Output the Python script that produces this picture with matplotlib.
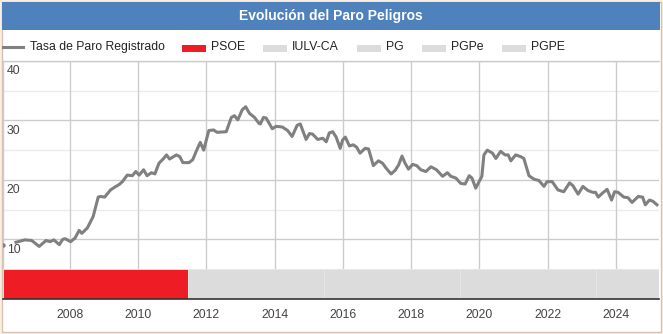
"""Evolución del Paro Peligros"""
import matplotlib
matplotlib.use('Agg')
import matplotlib.pyplot as plt
from matplotlib.patches import Rectangle
from matplotlib.lines import Line2D
import matplotlib.transforms as mtransforms

plt.rcParams['font.family'] = ['Liberation Sans', 'DejaVu Sans']

# Datos (fecha en año decimal, tasa en %)
fechas = [
    2006.05, 2006.42, 2006.68, 2006.88, 2007.10, 2007.30, 2007.42, 2007.53, 2007.69, 2007.79,
    2007.86, 2008.02, 2008.15, 2008.27, 2008.35, 2008.51, 2008.68, 2008.83, 2008.90, 2009.02,
    2009.19, 2009.32, 2009.44, 2009.54, 2009.68, 2009.83, 2009.93, 2010.03, 2010.16, 2010.26,
    2010.39, 2010.49, 2010.61, 2010.73, 2010.83, 2010.92, 2011.12, 2011.22, 2011.31, 2011.49,
    2011.60, 2011.70, 2011.82, 2011.92, 2012.07, 2012.21, 2012.31, 2012.58, 2012.73, 2012.82,
    2012.92, 2013.05, 2013.15, 2013.26, 2013.41, 2013.54, 2013.58, 2013.67, 2013.75, 2013.93,
    2014.04, 2014.22, 2014.38, 2014.51, 2014.66, 2014.75, 2014.92, 2015.02, 2015.11, 2015.26,
    2015.41, 2015.51, 2015.60, 2015.70, 2015.80, 2015.92, 2015.99, 2016.07, 2016.19, 2016.30,
    2016.40, 2016.50, 2016.65, 2016.75, 2016.89, 2017.04, 2017.16, 2017.26, 2017.41, 2017.53,
    2017.63, 2017.73, 2017.82, 2017.92, 2018.04, 2018.16, 2018.28, 2018.43, 2018.58, 2018.74,
    2018.92, 2019.06, 2019.16, 2019.31, 2019.45, 2019.58, 2019.70, 2019.78, 2019.89, 2020.07,
    2020.13, 2020.23, 2020.38, 2020.48, 2020.62, 2020.75, 2020.84, 2020.92, 2021.06, 2021.21,
    2021.30, 2021.45, 2021.60, 2021.74, 2021.89, 2021.98, 2022.13, 2022.30, 2022.47, 2022.64,
    2022.74, 2022.89, 2023.03, 2023.18, 2023.32, 2023.40, 2023.48, 2023.61, 2023.74, 2023.87,
    2023.96, 2024.06, 2024.23, 2024.35, 2024.47, 2024.65, 2024.78, 2024.86, 2024.98, 2025.08,
    2025.20,
]
tasa_paro = [
    9.1, 9.5, 9.9, 9.8, 8.8, 9.8, 9.6, 9.9, 9.1, 10.0,
    10.1, 9.6, 10.2, 11.5, 11.0, 11.9, 13.8, 17.1, 17.2, 17.1,
    18.3, 18.8, 19.2, 19.7, 20.8, 20.7, 21.4, 20.8, 21.7, 20.7,
    21.2, 21.0, 22.8, 23.5, 24.2, 23.5, 24.2, 23.9, 22.9, 22.9,
    23.4, 24.8, 26.3, 25.0, 28.3, 28.4, 28.0, 28.1, 30.5, 30.8,
    30.1, 31.8, 32.3, 31.2, 30.5, 29.5, 29.4, 30.5, 30.4, 28.6,
    29.0, 28.9, 28.3, 27.3, 29.2, 29.4, 26.8, 27.8, 27.7, 26.8,
    27.0, 26.4, 27.9, 28.1, 27.2, 25.3, 26.7, 27.2, 25.7, 25.9,
    25.5, 24.5, 25.3, 25.2, 22.4, 23.2, 22.8, 22.0, 21.0, 21.6,
    22.5, 24.0, 22.8, 21.8, 22.6, 22.4, 21.7, 21.4, 22.2, 21.7,
    20.6, 21.2, 20.6, 20.3, 19.4, 19.3, 20.7, 20.3, 18.6, 20.6,
    24.2, 25.0, 24.5, 23.6, 24.8, 24.2, 24.2, 23.2, 24.2, 23.9,
    23.6, 20.7, 20.1, 19.9, 18.9, 19.7, 19.7, 18.3, 18.0, 19.5,
    19.0, 17.6, 18.9, 18.2, 17.9, 17.9, 17.1, 17.8, 18.4, 16.6,
    18.0, 17.9, 17.1, 17.0, 16.2, 17.2, 17.1, 15.8, 16.6, 16.4,
    15.8,
]

# Gobiernos municipales (franja inferior)
partidos = ['PSOE', 'IULV-CA', 'PG', 'PGPe', 'PGPE']
inicio_mandato = [2006.04, 2011.45, 2015.45, 2019.42, 2023.42]
fin_mandato = [2011.45, 2015.45, 2019.42, 2023.42, 2025.26]
colores_partido = ['#ee1c25', '#dcdcdc', '#dcdcdc', '#dcdcdc', '#dcdcdc']

anios = [2008, 2010, 2012, 2014, 2016, 2018, 2020, 2022, 2024]
y_principal = [10, 20, 30, 40]
y_secundario = [15, 25, 35]

W, H = 663, 334
fig = plt.figure(figsize=(W / 100, H / 100), dpi=100, facecolor='#fcefdf')


def fx(px):
    return px / W


def fy(py):
    return 1 - py / H


# Fondo blanco con borde
fig.patches.append(Rectangle((fx(1.5), fy(331.5)), fx(659.5), (330 / H),
                             transform=fig.transFigure, facecolor='white',
                             edgecolor='#d2c4b4', linewidth=1.0, zorder=-5))
# Barra de título
fig.patches.append(Rectangle((fx(2), fy(30)), fx(658), (28 / H),
                             transform=fig.transFigure, facecolor='#4f81bd',
                             edgecolor='none', zorder=1))
fig.text(fx(331), fy(16), 'Evolución del Paro Peligros', color='white',
         fontsize=10, fontweight='bold', ha='center', va='center')

# Leyenda manual
ly = fy(47)
fig.lines.append(Line2D([fx(3), fx(23)], [ly, ly], transform=fig.transFigure,
                        color='#808080', linewidth=2.2))
fig.text(fx(30), ly, 'Tasa de Paro Registrado', fontsize=8.8, color='#222222',
         va='center', ha='left')
leyenda_x = [182, 263, 357, 422, 502]
for px, nombre, col in zip(leyenda_x, partidos, colores_partido):
    fig.patches.append(Rectangle((fx(px), fy(52)), fx(24), 7 / H,
                                 transform=fig.transFigure, facecolor=col,
                                 edgecolor='none'))
    fig.text(fx(px + 29), ly, nombre, fontsize=8.8, color='#222222',
             va='center', ha='left')

x0, x1 = 2006.04, 2025.26

# Gráfico principal
ax = fig.add_axes([fx(3), fy(269), fx(656), (208 / H)], zorder=2)
ax.set_facecolor('none')
# primer dato aislado (hueco en la serie)
ax.plot(fechas[:1], tasa_paro[:1], 'o', color='#808080', markersize=2.2, zorder=3)
ax.plot(fechas[1:], tasa_paro[1:], color='#808080', linewidth=2.2, zorder=3,
        solid_joinstyle='round')
ax.set_xlim(x0, x1)
ax.set_ylim(5, 40)
for v in y_secundario:
    ax.axhline(v, color='#ebebeb', linewidth=1.0, zorder=1)
for v in y_principal:
    ax.axhline(v, color='#cccccc', linewidth=1.0, zorder=1)
for a in anios:
    ax.axvline(a, color='#cccccc', linewidth=1.0, zorder=1)
ax.set_xticks([])
ax.set_yticks([])
for s in ['right', 'bottom']:
    ax.spines[s].set_visible(False)
for s in ['left', 'top']:
    ax.spines[s].set_color('#cccccc')
    ax.spines[s].set_linewidth(1.0)

trans = mtransforms.blended_transform_factory(ax.transAxes, ax.transData)
for v in y_principal:
    ax.text(0.006, v - 0.75, str(v), transform=trans, fontsize=8.8,
            color='#444444', ha='left', va='top', zorder=4)

# Franja de gobiernos
ax_band = fig.add_axes([fx(3), fy(299), fx(656), (30 / H)], zorder=2)
for ini, fin, col in zip(inicio_mandato, fin_mandato, colores_partido):
    ax_band.barh(0, fin - ini, left=ini, height=1, color=col,
                 edgecolor='#e6e6e6', linewidth=0.6)
ax_band.set_xlim(x0, x1)
ax_band.set_ylim(-0.5, 0.5)
ax_band.set_yticks([])
ax_band.set_xticks(anios)
ax_band.set_xticklabels([str(a) for a in anios], fontsize=8.8, color='#444444')
ax_band.tick_params(axis='x', length=0, pad=7)
for s in ['left', 'right', 'top']:
    ax_band.spines[s].set_visible(False)
ax_band.spines['bottom'].set_color('#333333')
ax_band.spines['bottom'].set_linewidth(1.2)

fig.savefig('out.png', dpi=100, facecolor=fig.get_facecolor())
